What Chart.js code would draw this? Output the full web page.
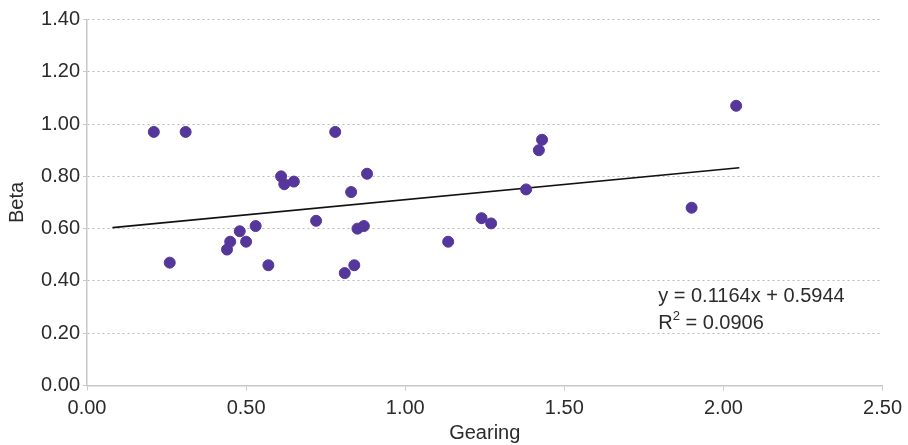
<!DOCTYPE html>
<html>
<head>
<meta charset="utf-8">
<script src="https://cdn.jsdelivr.net/npm/chart.js@4"></script>
<style>
  html, body { margin: 0; padding: 0; background: #fff; }
  #wrap { width: 908px; height: 445px; }
</style>
</head>
<body>
<div id="wrap"><canvas id="beta"></canvas></div>
<script>
// gearing (x) and beta (y) for each company
var gearing = [0.21, 0.31, 0.26, 0.44, 0.45, 0.48, 0.50, 0.53, 0.57, 0.61, 0.62, 0.65, 0.72, 0.78,
               0.81, 0.83, 0.84, 0.85, 0.87, 0.88, 1.135, 1.24, 1.27, 1.38, 1.42, 1.43, 1.90, 2.04];
var beta =    [0.97, 0.97, 0.47, 0.52, 0.55, 0.59, 0.55, 0.61, 0.46, 0.80, 0.77, 0.78, 0.63, 0.97,
               0.43, 0.74, 0.46, 0.60, 0.61, 0.81, 0.55, 0.64, 0.62, 0.75, 0.90, 0.94, 0.68, 1.07];

// linear trendline ends, as drawn
var trendX = [0.08, 2.05];
var trendY = [0.604, 0.833];
var equationText = ["y = 0.1164x + 0.5944", "R", "2", " = 0.0906"];

var points = [];
for (var i = 0; i < gearing.length; i++) {
    points.push({x: gearing[i], y: beta[i]});
}
var trend = [];
for (var j = 0; j < trendX.length; j++) {
    trend.push({x: trendX[j], y: trendY[j]});
}

var textColor = '#2b2b2b';
var fontFamily = "'Liberation Sans', Arial, Helvetica, sans-serif";

// writes the regression equation under the line
var equationPlugin = {
    id: 'equation',
    afterDraw: function(chart) {
        var ctx = chart.ctx;
        var xs = chart.scales.x, ys = chart.scales.y;
        var left = xs.getPixelForValue(1.795);
        ctx.save();
        ctx.fillStyle = textColor;
        ctx.textBaseline = 'middle';
        ctx.textAlign = 'left';
        ctx.font = '20px ' + fontFamily;
        ctx.fillText(equationText[0], left, ys.getPixelForValue(0.342));
        var y2 = ys.getPixelForValue(0.238);
        ctx.fillText(equationText[1], left, y2);
        var w = ctx.measureText(equationText[1]).width;
        ctx.font = '13px ' + fontFamily;
        ctx.fillText(equationText[2], left + w, y2 - 7);
        var w2 = ctx.measureText(equationText[2]).width;
        ctx.font = '20px ' + fontFamily;
        ctx.fillText(equationText[3], left + w + w2, y2);
        ctx.restore();
    }
};

var ctx = document.getElementById('beta').getContext('2d');
var chart = new Chart(ctx, {
    type: 'scatter',
    data: {
        datasets: [{
            label: 'Beta',
            data: points,
            backgroundColor: '#55369b',
            borderColor: '#55369b',
            pointRadius: 5.5,
            pointHoverRadius: 5.5,
            order: 1
        }, {
            label: 'Trend',
            type: 'line',
            data: trend,
            borderColor: '#111',
            borderWidth: 1.6,
            pointRadius: 0,
            fill: false,
            order: 2
        }]
    },
    plugins: [equationPlugin],
    options: {
        responsive: true,
        maintainAspectRatio: false,
        animation: false,
        layout: { padding: { top: 19.5, right: 23, left: 0, bottom: 0 } },
        plugins: {
            legend: { display: false },
            tooltip: { enabled: false }
        },
        scales: {
            x: {
                type: 'linear',
                min: 0,
                max: 2.5,
                ticks: {
                    stepSize: 0.5,
                    color: textColor,
                    padding: 6,
                    font: { size: 20, family: fontFamily },
                    callback: function(v) { return v.toFixed(2); }
                },
                grid: {
                    drawOnChartArea: false,
                    drawTicks: true,
                    tickLength: 5,
                    color: '#c8c8c8'
                },
                border: { color: '#c8c8c8', width: 1.5 },
                title: {
                    display: true,
                    text: 'Gearing',
                    color: textColor,
                    font: { size: 20, family: fontFamily },
                    padding: { top: 0, bottom: 0 }
                },
                afterFit: function(scale) { scale.height = 59.5; }
            },
            y: {
                min: 0,
                max: 1.4,
                ticks: {
                    stepSize: 0.2,
                    color: textColor,
                    padding: 3,
                    font: { size: 20, family: fontFamily },
                    callback: function(v) { return v.toFixed(2); }
                },
                grid: {
                    color: '#b8b8b8',
                    tickBorderDash: [0, 0],
                    tickColor: '#c8c8c8',
                    tickLength: 4,
                    lineWidth: 1
                },
                border: { color: '#c8c8c8', width: 1.5, dash: [2, 3] },
                title: {
                    display: true,
                    text: 'Beta',
                    color: textColor,
                    font: { size: 20, family: fontFamily },
                    padding: { top: 5, bottom: 0 }
                },
                afterFit: function(scale) { scale.width = 87; }
            }
        }
    }
});
</script>
</body>
</html>
